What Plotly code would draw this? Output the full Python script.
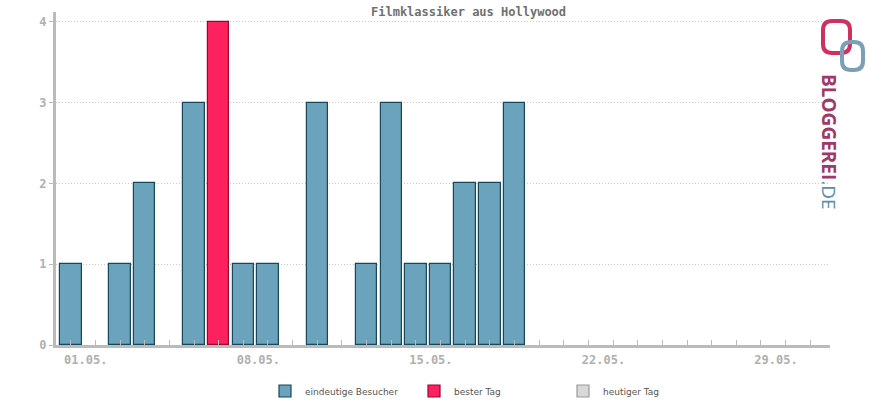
import plotly.graph_objects as go

days = list(range(1, 32))
visitors = [1, 0, 1, 2, 0, 3, 4, 1, 1, 0, 3, 0, 1, 3, 1, 1, 2, 2, 3] + [None] * 12
best_day = 7
tick_days = [1, 8, 15, 22, 29]
tick_labels = ["01.05.", "08.05.", "15.05.", "22.05.", "29.05."]
y_ticks = [0, 1, 2, 3, 4]

reg_x = [d for d, v in zip(days, visitors) if v and d != best_day]
reg_y = [v for d, v in zip(days, visitors) if v and d != best_day]
best_y = [visitors[best_day - 1]]

L, R, T, B = 56, 830, 12, 345
PW, PH = R - L, B - T


def px(x):
    return (x - L) / PW


def py(y):
    return (B - y) / PH


def rounded(x0, y0, x1, y1, r):
    pts = [
        f"M {px(x0 + r)},{py(y0)}", f"L {px(x1 - r)},{py(y0)}",
        f"Q {px(x1)},{py(y0)} {px(x1)},{py(y0 + r)}", f"L {px(x1)},{py(y1 - r)}",
        f"Q {px(x1)},{py(y1)} {px(x1 - r)},{py(y1)}", f"L {px(x0 + r)},{py(y1)}",
        f"Q {px(x0)},{py(y1)} {px(x0)},{py(y1 - r)}", f"L {px(x0)},{py(y0 + r)}",
        f"Q {px(x0)},{py(y0)} {px(x0 + r)},{py(y0)}", "Z",
    ]
    return " ".join(pts)


fig = go.Figure()
fig.add_trace(go.Bar(x=reg_x, y=reg_y, width=0.87, name="eindeutige Besucher",
                     marker=dict(color="#6aa3bb", line=dict(color="#17475a", width=1.2))))
fig.add_trace(go.Bar(x=[best_day], y=best_y, width=0.87, name="bester Tag",
                     marker=dict(color="#ff2060", line=dict(color="#a00030", width=1.2))))
fig.add_trace(go.Bar(x=[None], y=[None], name="heutiger Tag",
                     marker=dict(color="#d8d8d8", line=dict(color="#999999", width=1.2))))

mono = "DejaVu Sans Mono"
fig.update_layout(
    width=870, height=400,
    margin=dict(l=L, r=870 - R, t=T, b=400 - B, autoexpand=False),
    plot_bgcolor="white", paper_bgcolor="white",
    barmode="overlay", bargap=0,
    showlegend=True,
    legend=dict(orientation="h", x=px(265), xanchor="left", y=py(391), yanchor="middle",
                font=dict(family="DejaVu Sans", size=9, color="#555555"),
                entrywidth=104, itemclick=False),
    xaxis=dict(range=[0.4, 31.8], tickvals=tick_days, ticktext=tick_labels,
               showgrid=False, zeroline=False,
               showline=True, linecolor="#bbbbbb", linewidth=3,
               ticks="inside", ticklen=5, tickcolor="#bbbbbb", tickwidth=1,
               ticklabelshift=15, ticklabelstandoff=2,
               minor=dict(dtick=1, tick0=1, ticks="inside", ticklen=5, tickcolor="#bbbbbb", showgrid=False),
               tickfont=dict(family=mono, size=12, color="#b0b0b0", weight="bold")),
    yaxis=dict(range=[0, 4.12], tickvals=y_ticks,
               showgrid=True, gridcolor="#c8c8c8", griddash="1px,2px", gridwidth=1,
               zeroline=False, showline=True, linecolor="#bbbbbb", linewidth=3,
               ticks="outside", ticklen=4, tickcolor="#bbbbbb",
               tickfont=dict(family=mono, size=12, color="#b0b0b0", weight="bold")),
    annotations=[
        dict(text="<b>Filmklassiker aus Hollywood</b>", x=px(468), y=py(12), xref="paper", yref="paper",
             yanchor="middle", showarrow=False, font=dict(family=mono, size=12, color="#707070")),
        dict(text="<b>BLOGGEREI</b><span style='color:#5a8fb0'>.DE</span>", textangle=90,
             xref="paper", yref="paper", x=px(829), y=py(142), xanchor="center", yanchor="middle",
             showarrow=False, font=dict(family="Open Sans", size=19, color="#a03868")),
    ],
    shapes=[
        dict(type="path", xref="paper", yref="paper", path=rounded(823, 21, 850, 53, 9),
             line=dict(color="#d0305e", width=4)),
        dict(type="path", xref="paper", yref="paper", path=rounded(842, 42, 863, 70, 9),
             line=dict(color="#7aa0b8", width=4)),
    ],
)

fig.write_html("out.html", config={"displayModeBar": False},
               post_script="document.body.style.margin='0';")
